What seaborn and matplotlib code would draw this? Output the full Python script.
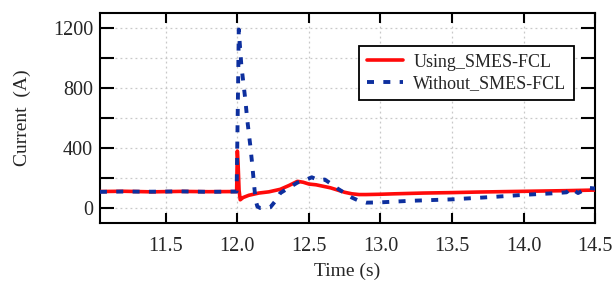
import matplotlib
matplotlib.use("Agg")
import matplotlib.pyplot as plt
from matplotlib.ticker import MultipleLocator, FuncFormatter
import seaborn as sns
import pandas as pd

# ---- data ----
t_using = [11.04, 11.2, 11.4, 11.6, 11.8, 11.995, 12.0, 12.005, 12.012, 12.02, 12.04,
           12.08, 12.15, 12.22, 12.3, 12.36, 12.42, 12.46, 12.5, 12.55, 12.6, 12.65,
           12.7, 12.75, 12.8, 12.85, 12.9, 13.0, 13.1, 13.3, 13.5, 13.7, 13.9, 14.1,
           14.3, 14.5]
i_using = [110, 112, 108, 111, 109, 110, 380, 300, 120, 55, 70,
           85, 100, 108, 125, 150, 178, 172, 160, 155, 145, 135,
           120, 105, 95, 90, 90, 92, 95, 100, 103, 107, 110, 113,
           116, 120]

t_without = [11.04, 11.2, 11.4, 11.6, 11.8, 11.995, 12.005, 12.01, 12.028, 12.056,
             12.068, 12.08, 12.09, 12.103, 12.115, 12.127, 12.14, 12.16, 12.2, 12.23,
             12.26, 12.3, 12.36, 12.42, 12.47, 12.52, 12.57, 12.61, 12.65, 12.7, 12.75,
             12.8, 12.85, 12.9, 13.0, 13.2, 13.5, 13.8, 14.0, 14.2, 14.3, 14.33, 14.38,
             14.45, 14.5]
i_without = [108, 110, 109, 111, 108, 110, 800, 1190, 950, 720,
             600, 500, 420, 300, 175, 55, 10, 0, 0, 5,
             40, 100, 135, 170, 185, 205, 185, 190, 165, 130, 100,
             70, 48, 36, 38, 48, 58, 75, 88, 98, 105, 132, 100,
             135, 130]

label_using = "Using_SMES-FCL"
label_without = "Without_SMES-FCL"
x_label = "Time (s)"
y_label = "Current  (A)"
x_ticks = [11.5, 12.0, 12.5, 13.0, 13.5, 14.0, 14.5]
y_ticks_labeled = [0, 400, 800, 1200]

sns.set_theme(style="ticks")
plt.rcParams["font.family"] = ["Liberation Serif", "DejaVu Serif"]

fig = plt.figure(figsize=(6.13, 2.82), dpi=100)
ax = fig.add_axes([0.163, 0.209, 0.808, 0.745])

df_u = pd.DataFrame({"t": t_using, "i": i_using})
df_w = pd.DataFrame({"t": t_without, "i": i_without})

sns.lineplot(data=df_u, x="t", y="i", ax=ax, color="#ff0a0a", lw=2.6,
             label=label_using, zorder=3)
sns.lineplot(data=df_w, x="t", y="i", ax=ax, color="#0d2f9e", lw=2.8,
             linestyle=(0, (1.8, 2.4)), label=label_without, zorder=4)

ax.set_xlim(11.04, 14.5)
ax.set_ylim(-100, 1300)
ax.set_xticks(x_ticks)
ax.xaxis.set_major_formatter(FuncFormatter(lambda v, p: f"{v:.1f}"))
ax.yaxis.set_major_locator(MultipleLocator(200))
ax.yaxis.set_major_formatter(FuncFormatter(
    lambda v, p: f"{int(round(v))}" if int(round(v)) in y_ticks_labeled else ""))

ax.grid(True, which="major", color="#c8c8c8", linestyle=(0, (1.5, 2.5)), lw=0.9)
ax.set_axisbelow(True)

for s in ax.spines.values():
    s.set_linewidth(1.5)
    s.set_color("black")

ax.tick_params(axis="both", which="major", direction="in", top=True, right=True,
               width=1.5, color="black", labelsize=14.5)
ax.tick_params(axis="x", length=7, pad=10)
ax.tick_params(axis="y", length=10, pad=5)

ax.set_xlabel(x_label, fontsize=14, labelpad=5)
ax.set_ylabel(y_label, fontsize=14, labelpad=16)

leg = ax.legend(loc="upper right", bbox_to_anchor=(0.958, 0.845), fontsize=13,
                frameon=True, fancybox=False, framealpha=1, edgecolor="black",
                handlelength=2.0, borderpad=0.45, labelspacing=0.25,
                handletextpad=0.55, borderaxespad=0)
leg.get_frame().set_linewidth(1.3)

fig.savefig("out.png", dpi=100)
